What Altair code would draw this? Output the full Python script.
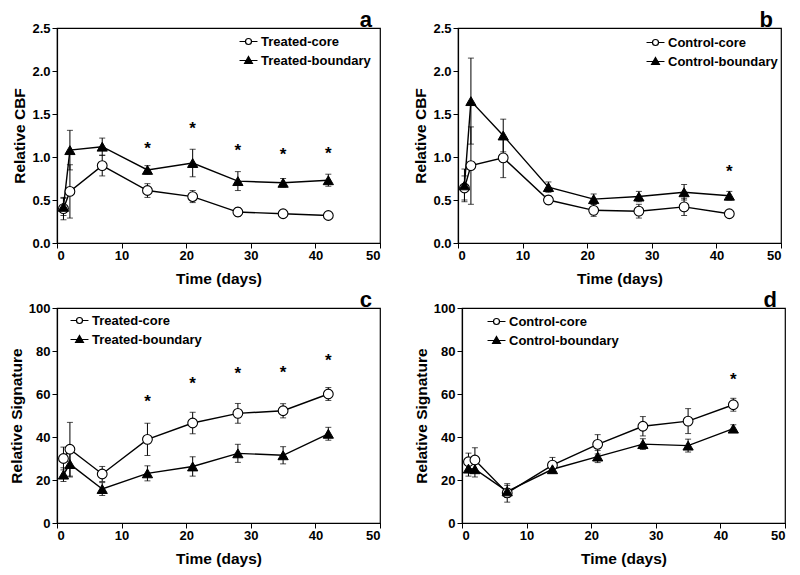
import altair as alt
import pandas as pd

FONT = "Liberation Sans"

DAYS = [1, 2, 7, 14, 21, 28, 35, 42]

# Panel a: treated, relative CBF
A_CORE = [0.40, 0.60, 0.90, 0.61, 0.54, 0.36, 0.34, 0.32]
A_CORE_ERR = [0.13, 0.31, 0.12, 0.08, 0.07, 0.05, 0.02, 0.02]
A_BND = [0.42, 1.08, 1.12, 0.85, 0.93, 0.72, 0.70, 0.73]
A_BND_ERR = [0.10, 0.23, 0.10, 0.05, 0.16, 0.11, 0.05, 0.07]
A_STAR_DAYS = [14, 21, 28, 35, 42]
A_STAR_Y = [1.15, 1.38, 1.13, 1.08, 1.09]

# Panel b: control, relative CBF
B_CORE = [0.64, 0.90, 0.99, 0.50, 0.38, 0.37, 0.42, 0.34]
B_CORE_ERR = [0.14, 0.45, 0.23, 0.05, 0.07, 0.08, 0.10, 0.03]
B_BND = [0.67, 1.65, 1.25, 0.65, 0.51, 0.54, 0.59, 0.55]
B_BND_ERR = [0.19, 0.50, 0.19, 0.06, 0.06, 0.06, 0.09, 0.05]
B_STAR_DAYS = [42]
B_STAR_Y = [0.88]

# Panel c: treated, relative signature
C_CORE = [30.0, 34.3, 22.8, 38.9, 46.5, 51.0, 52.2, 60.0]
C_CORE_ERR = [5.3, 12.5, 3.5, 7.5, 5.0, 4.6, 3.3, 3.0]
C_BND = [22.5, 27.4, 15.8, 23.1, 26.3, 32.4, 31.5, 41.5]
C_BND_ERR = [3.2, 6.0, 3.0, 3.5, 4.5, 4.2, 4.0, 3.0]
C_STAR_DAYS = [14, 21, 28, 35, 42]
C_STAR_Y = [58.5, 67.0, 71.5, 72.3, 77.7]

# Panel d: control, relative signature
D_CORE = [28.5, 29.3, 14.0, 26.9, 36.6, 45.0, 47.4, 55.0]
D_CORE_ERR = [4.0, 5.7, 4.3, 3.6, 4.5, 4.5, 5.8, 3.0]
D_BND = [25.3, 25.0, 14.7, 25.0, 30.9, 36.7, 36.0, 43.9]
D_BND_ERR = [3.5, 3.6, 2.8, 1.5, 2.8, 2.5, 3.0, 1.8]
D_STAR_DAYS = [42]
D_STAR_Y = [69.0]

CBF_TICKS = [0, 0.5, 1.0, 1.5, 2.0, 2.5]
SIG_TICKS = [0, 20, 40, 60, 80, 100]
X_TICKS = [0, 10, 20, 30, 40, 50]

CIRCLE_PATH = "M-2.4,0H-0.8M0.8,0H2.4M0.8,0A0.8,0.8,0,1,1,-0.8,0A0.8,0.8,0,1,1,0.8,0Z"
TRI_PATH = "M-2.4,0H2.4M0,-1.05L1.05,0.8L-1.05,0.8Z"

W, H = 323, 215


def panel(letter, core_label, bnd_label, core, core_err, bnd, bnd_err,
          star_days, star_y, y_title, y_max, y_ticks, y_fmt, lx, ly):
    rows = []
    for d, v, e in zip(DAYS, core, core_err):
        rows.append(dict(day=d, value=v, lo=v - e, hi=v + e, series=core_label))
    for d, v, e in zip(DAYS, bnd, bnd_err):
        rows.append(dict(day=d, value=v, lo=v - e, hi=v + e, series=bnd_label))
    df = pd.DataFrame(rows)
    stars = pd.DataFrame({"day": star_days, "y": star_y})

    def xch():
        return alt.X("day:Q", scale=alt.Scale(domain=[0, 50], nice=False),
                     axis=alt.Axis(values=X_TICKS, format="d", labelPadding=1, titlePadding=9),
                     title="Time (days)")

    def ych(field):
        return alt.Y(field, scale=alt.Scale(domain=[0, y_max], nice=False),
                     axis=alt.Axis(values=y_ticks, format=y_fmt), title=y_title)

    base = alt.Chart(df)
    err = base.mark_rule(color="black", strokeWidth=1).encode(
        x=xch(), y=ych("lo:Q"), y2="hi:Q", detail="series:N")
    cap_lo = base.mark_tick(orient="horizontal", size=6, thickness=1, color="black").encode(
        x=xch(), y=ych("lo:Q"))
    cap_hi = base.mark_tick(orient="horizontal", size=6, thickness=1, color="black").encode(
        x=xch(), y=ych("hi:Q"))
    line = base.mark_line(color="black", strokeWidth=1.4).encode(
        x=xch(), y=ych("value:Q"), detail="series:N")
    core_pts = base.transform_filter(alt.datum.series == core_label).mark_point(
        shape="circle", size=95, filled=True, fill="white", stroke="black",
        strokeWidth=1.1, opacity=1).encode(x=xch(), y=ych("value:Q"))
    bnd_pts = base.transform_filter(alt.datum.series == bnd_label).mark_point(
        shape="triangle-up", size=105, filled=True, fill="black", stroke="black",
        strokeWidth=1, opacity=1).encode(x=xch(), y=ych("value:Q"))

    leg = alt.Legend(title=None, orient="none", legendX=lx, legendY=ly, padding=0,
                     labelFont=FONT, labelFontSize=13, labelFontWeight="bold",
                     labelColor="black", symbolSize=56, labelOffset=6,
                     rowPadding=5, symbolStrokeColor="black", symbolStrokeWidth=1.2,
                     symbolOpacity=1)
    dom = [core_label, bnd_label]
    legend_layer = base.mark_point(filled=True, opacity=0).encode(
        x=xch(), y=ych("value:Q"),
        shape=alt.Shape("series:N", scale=alt.Scale(domain=dom, range=[CIRCLE_PATH, TRI_PATH]), legend=leg),
        fill=alt.Fill("series:N", scale=alt.Scale(domain=dom, range=["white", "black"]), legend=leg),
        stroke=alt.Stroke("series:N", scale=alt.Scale(domain=dom, range=["black", "black"]), legend=leg),
    )
    star = alt.Chart(stars).mark_text(text="*", fontSize=17, fontWeight="bold", font=FONT,
                                      baseline="alphabetic", dy=10, color="black").encode(
        x=xch(), y=ych("y:Q"))

    return alt.layer(err, cap_lo, cap_hi, line, core_pts, bnd_pts, legend_layer, star).properties(
        width=W, height=H,
        title=alt.Title(letter, anchor="end", fontSize=22, fontWeight="bold", font=FONT,
                        color="black", dx=-8, offset=-10, frame="group"))


pa = panel("a", "Treated-core", "Treated-boundary", A_CORE, A_CORE_ERR, A_BND, A_BND_ERR,
           A_STAR_DAYS, A_STAR_Y, "Relative CBF", 2.5, CBF_TICKS, ".1f", 185, 7)
pb = panel("b", "Control-core", "Control-boundary", B_CORE, B_CORE_ERR, B_BND, B_BND_ERR,
           B_STAR_DAYS, B_STAR_Y, "Relative CBF", 2.5, CBF_TICKS, ".1f", 191, 8)
pc = panel("c", "Treated-core", "Treated-boundary", C_CORE, C_CORE_ERR, C_BND, C_BND_ERR,
           C_STAR_DAYS, C_STAR_Y, "Relative Signature", 100, SIG_TICKS, "d", 16, 6)
pd_ = panel("d", "Control-core", "Control-boundary", D_CORE, D_CORE_ERR, D_BND, D_BND_ERR,
            D_STAR_DAYS, D_STAR_Y, "Relative Signature", 100, SIG_TICKS, "d", 28, 7)


def indep(c):
    return c.resolve_scale(shape="independent", fill="independent", stroke="independent").resolve_legend(
        shape="independent", fill="independent", stroke="independent")


chart = indep(alt.vconcat(
    indep(alt.hconcat(pa, pb, spacing=31)),
    indep(alt.hconcat(pc, pd_, spacing=31)),
    spacing=0,
)).properties(background="white", padding=0).configure_view(stroke="black", strokeWidth=1.2).configure_axis(
    grid=False, domainColor="black", domainWidth=1.2, tickColor="black", tickSize=5,
    labelColor="black", labelFont=FONT, labelFontSize=13, labelFontWeight="bold",
    labelPadding=2, titleColor="black", titleFont=FONT, titleFontSize=15.5,
    titleFontWeight="bold", titlePadding=4,
)

chart.save("out.html", embed_options={"renderer": "svg", "actions": False})
